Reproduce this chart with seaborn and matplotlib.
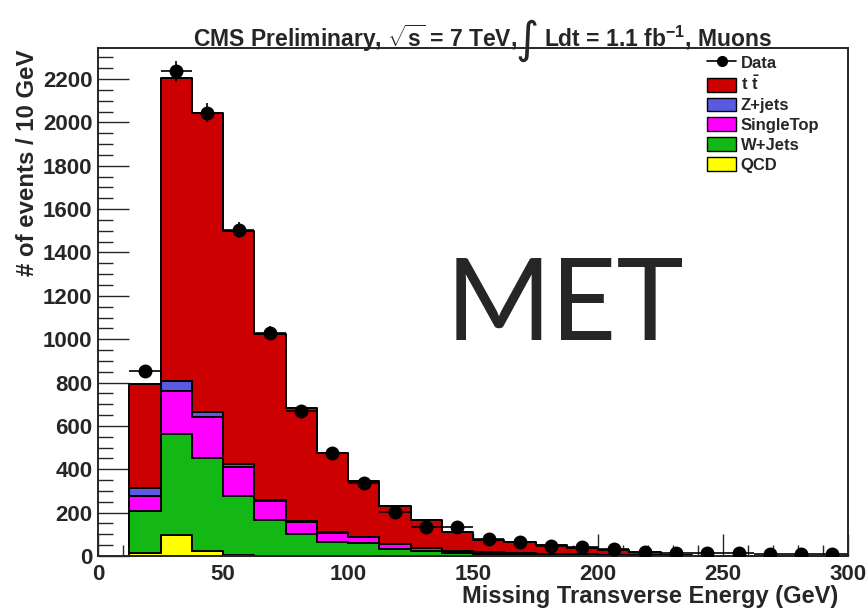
import numpy as np
import pandas as pd
import matplotlib
matplotlib.use("Agg")
import matplotlib.pyplot as plt
import seaborn as sns
from matplotlib.lines import Line2D
from matplotlib.patches import Patch
from matplotlib.ticker import MultipleLocator

# --- data (events per bin, bins of 12.5 GeV from 12.5 to 300 GeV) ---
bin_edges = list(np.arange(12.5, 300.1, 12.5))

qcd = [12, 95, 25, 3, 2, 1, 1, 0, 0, 0, 0, 0, 0, 0, 0, 0, 0, 0, 0, 0, 0, 0, 0]
wjets = [196, 466, 427, 275, 163, 102, 64, 58, 34, 25, 16, 11, 9, 7, 5, 4, 3, 1, 0, 0, 0, 0, 0]
singletop = [70, 200, 188, 134, 89, 55, 43, 28, 21, 10, 7, 5, 4, 3, 2, 2, 1, 1, 0, 0, 0, 0, 0]
zjets = [34, 48, 23, 14, 4, 3, 2, 2, 1, 1, 1, 1, 1, 0, 0, 0, 0, 0, 0, 0, 0, 0, 0]
ttbar = [482, 1395, 1380, 1074, 766, 520, 367, 257, 176, 130, 88, 58, 49, 39, 31, 22, 16, 3, 0, 0, 0, 0, 0]
data = [854, 2235, 2045, 1504, 1030, 671, 477, 335, 204, 133, 132, 80, 63, 45, 40, 30, 20, 15, 13, 12, 11, 10, 10]

processes = ["ttbar", "Z+jets", "SingleTop", "W+Jets", "QCD"]
colors = ["#cc0000", "#5a5ae0", "#ff00ff", "#14b814", "#ffff00"]
legend_names = ["t $\\bar{\\mathbf{t}}$", "Z+jets", "SingleTop", "W+Jets", "QCD"]

edges = np.array(bin_edges)
centers = 0.5 * (edges[:-1] + edges[1:])
half_w = 0.5 * (edges[1] - edges[0])

rows = []
for name, vals in zip(processes, [ttbar, zjets, singletop, wjets, qcd]):
    for c, v in zip(centers, vals):
        rows.append({"met": c, "n": v, "process": name})
df = pd.DataFrame(rows)

sns.set_style("ticks")
plt.rcParams["font.family"] = ["Liberation Sans", "DejaVu Sans"]
plt.rcParams["font.weight"] = "bold"
plt.rcParams["mathtext.fontset"] = "custom"
plt.rcParams["mathtext.rm"] = "Liberation Sans:bold"
plt.rcParams["mathtext.bf"] = "Liberation Sans:bold"
plt.rcParams["mathtext.default"] = "bf"

W, H = 868, 611
fig = plt.figure(figsize=(W / 100, H / 100), dpi=100)
ax = fig.add_axes([98 / W, 1 - 556 / H, 750 / W, 508 / H])

# stacked MC (last hue level ends up at the bottom)
sns.histplot(data=df, x="met", weights="n", hue="process", hue_order=processes,
             palette=colors, bins=bin_edges, multiple="stack", element="step",
             fill=True, alpha=1, edgecolor="black", linewidth=1.4, legend=False, ax=ax)

# data points
ax.errorbar(centers, data, xerr=half_w, yerr=np.sqrt(data), fmt="o", color="black",
            ms=9, elinewidth=1.2, capsize=0, zorder=10)

ax.set_xlim(0, 300)
ax.set_ylim(0, 2343)
ax.xaxis.set_major_locator(MultipleLocator(50))
ax.xaxis.set_minor_locator(MultipleLocator(10))
ax.yaxis.set_major_locator(MultipleLocator(200))
ax.yaxis.set_minor_locator(MultipleLocator(50))
ax.tick_params(which="both", direction="in", width=1, labelsize=16)
ax.tick_params(axis="y", which="major", length=22, pad=4)
ax.tick_params(axis="y", which="minor", length=11)
ax.tick_params(axis="x", which="major", length=16, pad=6)
ax.tick_params(axis="x", which="minor", length=8)
for lab in ax.get_xticklabels() + ax.get_yticklabels():
    lab.set_fontweight("bold")
for s in ax.spines.values():
    s.set_linewidth(1.4)

ax.set_ylabel("")
ax.set_xlabel("Missing Transverse Energy (GeV)", fontsize=17, fontweight="bold", ha="right")
ax.xaxis.set_label_coords(0.987, -0.057)
fig.text(28 / W, 1 - 50 / H, "# of events / 10 GeV", rotation=90, ha="center", va="top",
         fontsize=17.3, fontweight="bold")

# title in three pieces so the integral sign can be drawn large
ty = 1 - 46.7 / H
fig.text(193 / W, ty, r"CMS Preliminary, $\sqrt{s}$ = 7 TeV,", ha="left", va="baseline",
         fontsize=16.5, fontweight="bold")
fig.text(527 / W, 1 - 40 / H, "\u222b", ha="center", va="center", fontsize=32,
         family="DejaVu Sans", fontweight="normal")
fig.text(772 / W, ty, r"Ldt = 1.1 fb$^{-1}$, Muons", ha="right", va="baseline",
         fontsize=16.5, fontweight="bold")

fig.text(565 / W, 1 - 308 / H, "MET", ha="center", va="center", fontsize=82,
         family=["Lato", "DejaVu Sans"], fontweight="normal")

handles = [Line2D([0], [0], color="black", marker="o", ms=7, lw=1.2)]
for col in colors:
    handles.append(Patch(facecolor=col, edgecolor="black", linewidth=1))
leg = fig.legend(handles, ["Data"] + legend_names, loc="upper left",
                 bbox_to_anchor=(0.815, 0.91), frameon=False, fontsize=12,
                 handlelength=1.7, handleheight=0.9, handletextpad=0.3,
                 labelspacing=0.25, borderpad=0, borderaxespad=0)
for t in leg.get_texts():
    t.set_fontweight("bold")

fig.savefig("out.png", dpi=100)
